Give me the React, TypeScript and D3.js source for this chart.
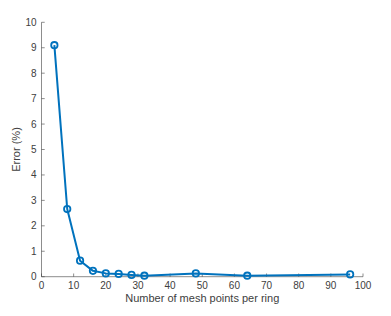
import React from 'react';
import * as d3 from 'd3';

const meshPoints = [4, 8, 12, 16, 20, 24, 28, 32, 48, 64, 96];
const errorPct = [9.1, 2.66, 0.63, 0.23, 0.13, 0.11, 0.07, 0.04, 0.13, 0.04, 0.09];
const xTicks = [0, 10, 20, 30, 40, 50, 60, 70, 80, 90, 100];
const yTicks = [0, 1, 2, 3, 4, 5, 6, 7, 8, 9, 10];

const W = 391;
const H = 316;
const left = 41.5;
const right = 363;
const top = 22.3;
const bottom = 276.7;
const blue = '#0072BD';
const ink = '#404040';
const font = 'Liberation Sans, Arial, Helvetica, sans-serif';

export default function App() {
  const x = d3.scaleLinear().domain([0, 100]).range([left, right]);
  const y = d3.scaleLinear().domain([0, 10]).range([bottom, top]);
  const pts = meshPoints.map((m, i) => [m, errorPct[i]] as [number, number]);
  const line = d3.line<[number, number]>().x(d => x(d[0])).y(d => y(d[1]));

  return (
    <svg width={W} height={H} style={{ position: 'absolute', left: 0, top: 0, background: '#fff' }}>
      <g fontFamily={font} fontSize={10} fill={ink}>
        <line x1={left} x2={right} y1={bottom} y2={bottom} stroke={ink} strokeWidth={0.6} />
        <line x1={left} x2={left} y1={bottom} y2={top} stroke={ink} strokeWidth={0.6} />
        {xTicks.map(t => (
          <g key={'x' + t}>
            <line x1={x(t)} x2={x(t)} y1={bottom} y2={bottom - 3.2} stroke={ink} strokeWidth={0.6} />
            <text x={x(t)} y={bottom + 12} textAnchor="middle">{t}</text>
          </g>
        ))}
        {yTicks.map(t => (
          <g key={'y' + t}>
            <line x1={left} x2={left + 3.2} y1={y(t)} y2={y(t)} stroke={ink} strokeWidth={0.6} />
            <text x={left - 5} y={y(t) + 3.5} textAnchor="end">{t}</text>
          </g>
        ))}
        <text x={(left + right) / 2} y={302} textAnchor="middle" fontSize={11}>
          Number of mesh points per ring
        </text>
        <text transform={`translate(20,${(top + bottom) / 2}) rotate(-90)`} textAnchor="middle" fontSize={11}>
          Error (%)
        </text>
      </g>
      <path d={line(pts) || ''} fill="none" stroke={blue} strokeWidth={2} strokeLinejoin="round" />
      {pts.map((p, i) => (
        <circle key={i} cx={x(p[0])} cy={y(p[1])} r={3.2} fill="none" stroke={blue} strokeWidth={1.8} />
      ))}
    </svg>
  );
}
